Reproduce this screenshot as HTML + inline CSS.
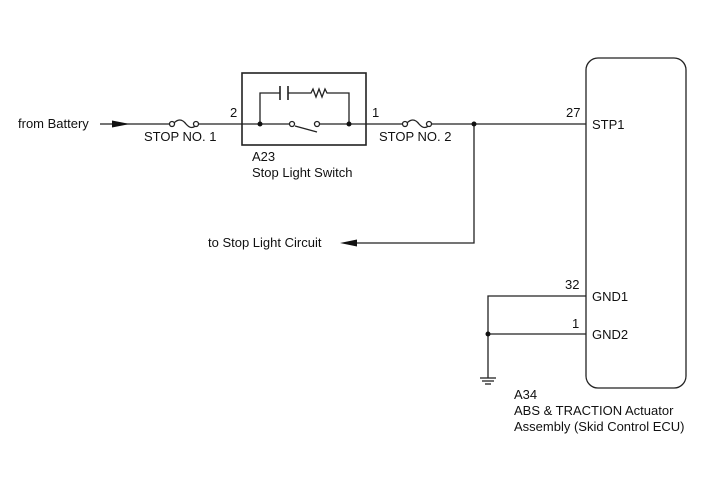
<!DOCTYPE html>
<html><head><style>body{margin:0;background:#fff}svg{display:block}text{font-family:"Liberation Sans",Arial,sans-serif;font-size:13px;fill:#111}</style></head><body>
<svg width="713" height="481" viewBox="0 0 713 481" xmlns="http://www.w3.org/2000/svg">
<g stroke="#222" stroke-width="1.3" fill="none">
<line x1="100" y1="124" x2="170" y2="124"/>
<line x1="197" y1="124" x2="292" y2="124"/>
<line x1="317" y1="124" x2="403" y2="124"/>
<line x1="430" y1="124" x2="586" y2="124"/>
<path d="M173 124 Q180 116 186 124 Q192 131 197 124"/>
<path d="M406 124 Q413 116 419 124 Q425 131 430 124"/>
<rect x="242" y="73" width="124" height="72" stroke-width="1.6"/>
<path d="M260 124 V93 H280 M288 93 H311 L313 89 L316 97 L319 89 L322 97 L325 89 L327 93 H349 V124"/>
<line x1="280" y1="86" x2="280" y2="100" stroke-width="1.6"/>
<line x1="288" y1="86" x2="288" y2="100" stroke-width="1.6"/>
<line x1="295" y1="126" x2="317" y2="132"/>
<rect x="586" y="58" width="100" height="330" rx="12"/>
<path d="M474 124 V243 H350"/>
<path d="M586 296 H488 V378 M488 334 H586"/>
<line x1="480" y1="378" x2="496" y2="378"/>
<line x1="482" y1="381" x2="494" y2="381"/>
<line x1="485" y1="384" x2="491" y2="384"/>
</g>
<g fill="#fff" stroke="#222" stroke-width="1.3">
<circle cx="172" cy="124" r="2.5"/><circle cx="196" cy="124" r="2.5"/>
<circle cx="405" cy="124" r="2.5"/><circle cx="429" cy="124" r="2.5"/>
<circle cx="292" cy="124" r="2.5"/><circle cx="317" cy="124" r="2.5"/>
</g>
<g fill="#111">
<circle cx="260" cy="124" r="2.5"/><circle cx="349" cy="124" r="2.5"/>
<circle cx="474" cy="124" r="2.5"/><circle cx="488" cy="334" r="2.5"/>
<polygon points="112,120.5 130,124 112,127.5"/>
<polygon points="340,243 357,239.5 357,246.5"/>
</g>
<text x="18" y="128">from Battery</text>
<text x="144" y="141">STOP NO. 1</text>
<text x="379" y="141">STOP NO. 2</text>
<text x="230" y="117">2</text>
<text x="372" y="117">1</text>
<text x="252" y="161">A23</text>
<text x="252" y="177">Stop Light Switch</text>
<text x="566" y="117">27</text>
<text x="592" y="129">STP1</text>
<text x="565" y="289">32</text>
<text x="592" y="301">GND1</text>
<text x="572" y="328">1</text>
<text x="592" y="339">GND2</text>
<text x="208" y="247">to Stop Light Circuit</text>
<text x="514" y="399">A34</text>
<text x="514" y="415">ABS &amp; TRACTION Actuator</text>
<text x="514" y="431">Assembly (Skid Control ECU)</text>
</svg>
</body></html>
